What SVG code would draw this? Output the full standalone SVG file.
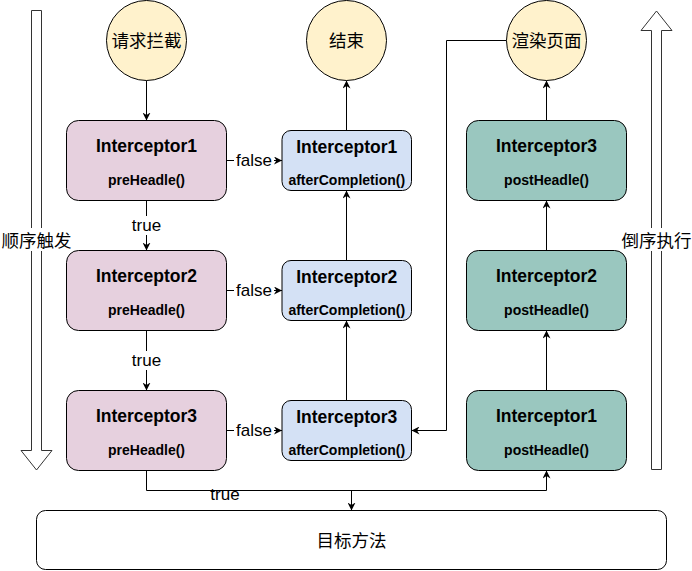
<svg xmlns="http://www.w3.org/2000/svg" width="692" height="571" viewBox="0 0 692 571">
<style>
.pink{fill:#e6d0de;stroke:#000;stroke-width:1}
.blue{fill:#d4e1f5;stroke:#000;stroke-width:1}
.green{fill:#9ac7bf;stroke:#000;stroke-width:1}
.circ{fill:#fff2cc;stroke:#000;stroke-width:1}
.t{font-family:"Liberation Sans",Arial,Helvetica,sans-serif;font-weight:bold;font-size:17.5px;text-anchor:middle;fill:#000}
.s{font-family:"Liberation Sans",Arial,Helvetica,sans-serif;font-weight:bold;font-size:14px;text-anchor:middle;fill:#000}
.cj{font-family:"Liberation Sans","Noto Sans CJK SC",sans-serif;font-size:17.5px;text-anchor:middle;fill:#000}
.lb{font-family:"Liberation Sans",Arial,Helvetica,sans-serif;font-size:17px;text-anchor:middle;fill:#000}
.ln{fill:none;stroke:#000;stroke-width:1}
.hollow{fill:#fff;stroke:#333;stroke-width:1}
</style>
<defs>
<marker id="ah" viewBox="0 0 10 10" refX="10" refY="5" markerWidth="8" markerHeight="8" markerUnits="userSpaceOnUse" orient="auto">
<path d="M0,0 L10,5 L0,10 L3,5 z" fill="#000"/>
</marker>
</defs>
<rect width="692" height="571" fill="#fff"/>

<g id="arrow-down">
<polygon class="hollow" points="31.5,10.5 41.5,10.5 41.5,450.5 52,450.5 36.5,470 21,450.5 31.5,450.5"/>
<rect x="0" y="228" width="73" height="23" fill="#fff"/>
<text class="cj" x="36.5" y="247">顺序触发</text>
</g>
<g id="arrow-up">
<polygon class="hollow" points="651.5,469.5 661.5,469.5 661.5,30.5 672,30.5 656.5,11 641,30.5 651.5,30.5"/>
<rect x="620" y="228" width="72" height="23" fill="#fff"/>
<text class="cj" x="656.5" y="247">倒序执行</text>
</g>

<g id="connectors">
<path class="ln" d="M146.5,80.5 V120.5" marker-end="url(#ah)"/>
<path class="ln" d="M146.5,200.5 V250.5" marker-end="url(#ah)"/>
<path class="ln" d="M146.5,330.5 V390.5" marker-end="url(#ah)"/>
<path class="ln" d="M226.5,160.5 H282" marker-end="url(#ah)"/>
<path class="ln" d="M226.5,290.5 H282" marker-end="url(#ah)"/>
<path class="ln" d="M226.5,430.5 H282" marker-end="url(#ah)"/>
<path class="ln" d="M346.5,400.5 V320.5" marker-end="url(#ah)"/>
<path class="ln" d="M346.5,260.5 V190.5" marker-end="url(#ah)"/>
<path class="ln" d="M346.5,130.5 V80.5" marker-end="url(#ah)"/>
<path class="ln" d="M146.5,470.5 V490.5 H546.5 V470.5" marker-end="url(#ah)"/>
<path class="ln" d="M351.5,490.5 V510.5" marker-end="url(#ah)"/>
<path class="ln" d="M546.5,390.5 V330.5" marker-end="url(#ah)"/>
<path class="ln" d="M546.5,250.5 V200.5" marker-end="url(#ah)"/>
<path class="ln" d="M546.5,120.5 V80.5" marker-end="url(#ah)"/>
<path class="ln" d="M506.5,40.5 H446.5 V430.5 H411.5" marker-end="url(#ah)"/>
<rect x="234" y="151" width="40" height="19" fill="#fff"/>
<text class="lb" x="254" y="166">false</text>
<rect x="234" y="281" width="40" height="19" fill="#fff"/>
<text class="lb" x="254" y="296">false</text>
<rect x="234" y="421" width="40" height="19" fill="#fff"/>
<text class="lb" x="254" y="436">false</text>
<rect x="131" y="216" width="31" height="19" fill="#fff"/>
<text class="lb" x="146.5" y="231">true</text>
<rect x="131" y="351" width="31" height="19" fill="#fff"/>
<text class="lb" x="146.5" y="366">true</text>
<text class="lb" x="225" y="500">true</text>
</g>

<g id="start">
<circle class="circ" cx="146.5" cy="40.5" r="40"/>
<text class="cj" x="146.5" y="47">请求拦截</text>
</g>
<g id="end">
<circle class="circ" cx="346.5" cy="40.5" r="40"/>
<text class="cj" x="346.5" y="47">结束</text>
</g>
<g id="render">
<circle class="circ" cx="546.5" cy="40.5" r="40"/>
<text class="cj" x="546.5" y="47">渲染页面</text>
</g>

<g id="pre1">
<rect class="pink" x="66.5" y="120.5" width="160" height="80" rx="12"/>
<text class="t" x="146.5" y="152">Interceptor1</text>
<text class="s" x="146.5" y="185">preHeadle()</text>
</g>
<g id="pre2">
<rect class="pink" x="66.5" y="250.5" width="160" height="80" rx="12"/>
<text class="t" x="146.5" y="282">Interceptor2</text>
<text class="s" x="146.5" y="315">preHeadle()</text>
</g>
<g id="pre3">
<rect class="pink" x="66.5" y="390.5" width="160" height="80" rx="12"/>
<text class="t" x="146.5" y="422">Interceptor3</text>
<text class="s" x="146.5" y="455">preHeadle()</text>
</g>

<g id="after1">
<rect class="blue" x="282" y="130.5" width="129.5" height="60" rx="9"/>
<text class="t" x="346.75" y="152.5">Interceptor1</text>
<text class="s" x="346.75" y="184.5">afterCompletion()</text>
</g>
<g id="after2">
<rect class="blue" x="282" y="260.5" width="129.5" height="60" rx="9"/>
<text class="t" x="346.75" y="282.5">Interceptor2</text>
<text class="s" x="346.75" y="314.5">afterCompletion()</text>
</g>
<g id="after3">
<rect class="blue" x="282" y="400.5" width="129.5" height="60" rx="9"/>
<text class="t" x="346.75" y="422.5">Interceptor3</text>
<text class="s" x="346.75" y="454.5">afterCompletion()</text>
</g>

<g id="post3">
<rect class="green" x="466.5" y="120.5" width="160" height="80" rx="12"/>
<text class="t" x="546.5" y="152">Interceptor3</text>
<text class="s" x="546.5" y="185">postHeadle()</text>
</g>
<g id="post2">
<rect class="green" x="466.5" y="250.5" width="160" height="80" rx="12"/>
<text class="t" x="546.5" y="282">Interceptor2</text>
<text class="s" x="546.5" y="315">postHeadle()</text>
</g>
<g id="post1">
<rect class="green" x="466.5" y="390.5" width="160" height="80" rx="12"/>
<text class="t" x="546.5" y="422">Interceptor1</text>
<text class="s" x="546.5" y="455">postHeadle()</text>
</g>

<g id="target">
<rect x="36.5" y="510.5" width="630" height="59" rx="9" fill="#fff" stroke="#000" stroke-width="1"/>
<text class="cj" x="351.5" y="547">目标方法</text>
</g>
</svg>
